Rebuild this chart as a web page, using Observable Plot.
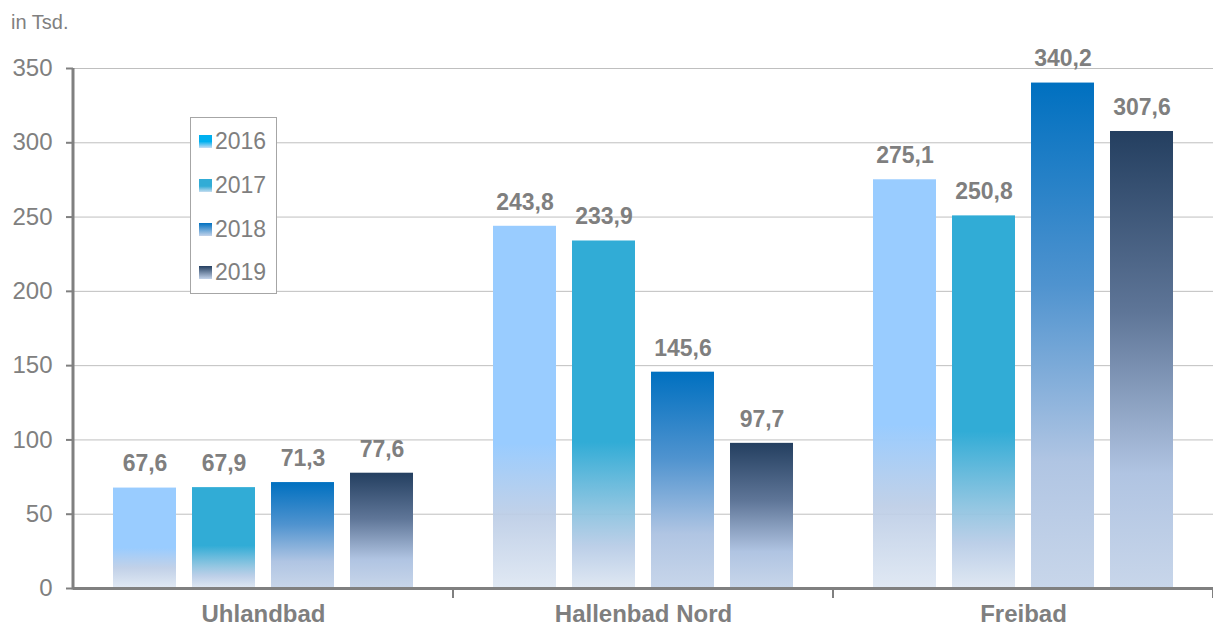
<!DOCTYPE html>
<html>
<head>
<meta charset="utf-8">
<script src="https://cdn.jsdelivr.net/npm/d3@7"></script>
<script src="https://cdn.jsdelivr.net/npm/@observablehq/plot@0.6"></script>
<style>
  body { margin: 0; background: #fff; font-family: "Liberation Sans", Arial, sans-serif; }
  #wrap { position: relative; width: 1213px; height: 627px; }
  #unit { position: absolute; left: 11px; top: 11px; font-size: 20px; color: #808080; }
  #legend { position: absolute; left: 190px; top: 117px; width: 85px; height: 175px; border: 1px solid #A6A6A6; background: #fff; }
  .li { position: absolute; left: 8px; height: 24px; display: flex; align-items: center; font-size: 23px; color: #7F7F7F; }
  .li svg { margin-right: 3px; }
</style>
</head>
<body>
<div id="wrap">
  <div id="chart"></div>
  <div id="unit">in Tsd.</div>
  <div id="legend"></div>
</div>
<script>
const categories = ["Uhlandbad", "Hallenbad Nord", "Freibad"];
const years = ["2016", "2017", "2018", "2019"];
const values2016 = [67.6, 243.8, 275.1];
const values2017 = [67.9, 233.9, 250.8];
const values2018 = [71.3, 145.6, 340.2];
const values2019 = [77.6, 97.7, 307.6];
const yTicks = [0, 50, 100, 150, 200, 250, 300, 350];

const series = {"2016": values2016, "2017": values2017, "2018": values2018, "2019": values2019};
const data = [];
for (const yr of years) categories.forEach((c, i) => data.push({category: c, year: yr, value: series[yr][i]}));

const fmt = v => d3.format(".1f")(v).replace(".", ",");
const grey = "#7F7F7F";

const barMarks = years.map(yr => Plot.barY(data.filter(d => d.year === yr), {
  fx: "category", x: "year", y: "value", fill: `url(#bar${yr})`
}));

const plot = Plot.plot({
  width: 1213,
  height: 627,
  marginLeft: 73,
  marginRight: 0,
  marginTop: 68,
  marginBottom: 39,
  style: {fontFamily: "'Liberation Sans', Arial, sans-serif", background: "transparent"},
  fx: {domain: categories, padding: 0, label: null},
  x: {domain: years, paddingInner: 0.2, paddingOuter: 0.5, axis: null},
  y: {domain: [0, 350], label: null},
  marks: [
    Plot.gridY(yTicks, {stroke: "#BFBFBF", strokeOpacity: 1, strokeWidth: 1}),
    ...barMarks,
    Plot.ruleY([0], {stroke: "#808080", strokeWidth: 3}),
    Plot.text(data, {fx: "category", x: "year", y: "value", text: d => fmt(d.value), dy: -24,
      fill: grey, fontSize: 23, fontWeight: "bold"}),
    Plot.axisY(yTicks, {anchor: "left", tickSize: 7, tickPadding: 14, color: "#808080", fontSize: 24, strokeWidth: 2, label: null}),
    Plot.axisFx({anchor: "bottom", tickSize: 0, tickPadding: 16, color: grey, fontSize: 24, fontWeight: "bold", label: null})
  ]
});

document.getElementById("chart").appendChild(plot);

// gradients
const svg = d3.select(plot);
const defs = svg.insert("defs", ":first-child");
const gradStops = {
  bar2016: [[0, "#99CCFF", 1], [0.6, "#99CCFF", 1], [0.8, "#BCCDE6", 0.92], [1, "#DDE6F2", 0.9]],
  bar2017: [[0, "#31ACD6", 1], [0.58, "#31ACD6", 1], [0.78, "#8CC3E0", 0.95], [0.88, "#B6CBE6", 0.92], [1, "#DCE5F1", 0.9]],
  bar2018: [[0, "#0070C0", 1], [0.4, "#4F93CF", 1], [0.75, "#B0C5E3", 1], [1, "#C8D6EA", 1]],
  bar2019: [[0, "#243F60", 1], [0.4, "#5F7698", 1], [0.75, "#B0C4E2", 1], [1, "#C8D6EA", 1]],
  leg2016: [[0, "#00B0F0", 1], [0.5, "#00B0F0", 1], [1, "#C6DDF4", 1]],
  leg2017: [[0, "#31ACD6", 1], [0.55, "#31ACD6", 1], [1, "#C6DDF0", 1]],
  leg2018: [[0, "#0070C0", 1], [1, "#C3D3EA", 1]],
  leg2019: [[0, "#243F60", 1], [1, "#C3D3EA", 1]]
};
for (const [id, stops] of Object.entries(gradStops)) {
  const g = defs.append("linearGradient").attr("id", id).attr("x1", 0).attr("y1", 0).attr("x2", 0).attr("y2", 1);
  for (const [o, c, a] of stops) g.append("stop").attr("offset", o).attr("stop-color", c).attr("stop-opacity", a);
}

// y-axis line and category boundary ticks from the plot's scales
const ys = plot.scale("y");
const yScale = d3.scaleLinear(ys.domain, ys.range);
const fxs = plot.scale("fx");
const fxScale = d3.scaleBand(fxs.domain, fxs.range).padding(0);
const y0 = yScale(0);
const axisG = svg.append("g").attr("stroke", "#808080");
axisG.append("line").attr("x1", fxs.range[0]).attr("x2", fxs.range[0])
  .attr("y1", yScale(350)).attr("y2", y0 + 1.5).attr("stroke-width", 3);
const bounds = categories.map(c => fxScale(c)).concat([fxScale.range()[1]]);
axisG.selectAll("line.b").data(bounds.slice(1)).join("line").attr("class", "b")
  .attr("x1", d => d).attr("x2", d => d).attr("y1", y0).attr("y2", y0 + 10).attr("stroke-width", 2);

// legend
const legend = d3.select("#legend");
const legendY = [11, 55, 99, 142];
years.forEach((yr, i) => {
  const item = legend.append("div").attr("class", "li").style("top", legendY[i] + "px");
  const s = item.append("svg").attr("width", 13).attr("height", 13);
  s.append("rect").attr("width", 13).attr("height", 13).attr("fill", `url(#leg${yr})`);
  item.append("span").text(yr);
});
</script>
</body>
</html>
